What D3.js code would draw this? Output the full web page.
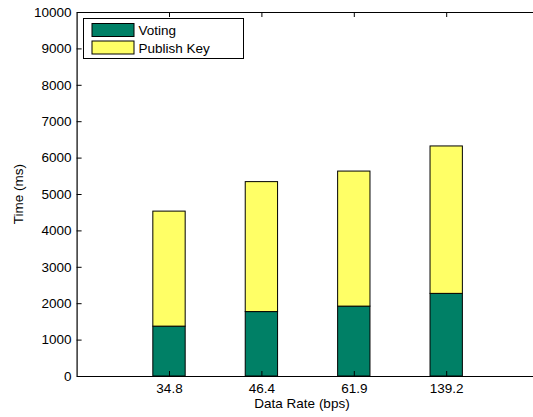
<!DOCTYPE html>
<html>
<head>
<meta charset="utf-8">
<script src="https://cdn.jsdelivr.net/npm/d3@7"></script>
<style>
  html, body { margin: 0; padding: 0; background: #fff; }
  svg { display: block; }
  text { font-family: "Liberation Sans", Arial, Helvetica, sans-serif; fill: #000; }
</style>
</head>
<body>
<script>
// Data: stacked time per data rate
const categories = ["34.8", "46.4", "61.9", "139.2"];
const voting = [1370, 1770, 1920, 2270];
const publishKey = [3160, 3570, 3710, 4050];
const seriesNames = ["Voting", "Publish Key"];
const yTicks = [0, 1000, 2000, 3000, 4000, 5000, 6000, 7000, 8000, 9000, 10000];

const W = 533, H = 417;
const plotLeft = 76.6, plotTop = 12, plotBottom = 376, plotRight = 538.6;
const fontSize = 13.5;

const svg = d3.select("body").append("svg")
  .attr("width", W).attr("height", H);

// Positions 1..n on a [0, n+1] axis
const x = d3.scaleLinear().domain([0, categories.length + 1]).range([plotLeft, plotRight]);
const y = d3.scaleLinear().domain([0, 10000]).range([plotBottom, plotTop]);
const barW = x(0.35) - x(0);

const colors = ["#008066", "#ffff66"];

const rows = categories.map((c, i) => ({ pos: i + 1, label: c, v: voting[i], p: publishKey[i] }));
const stacked = d3.stack().keys(["v", "p"])(rows);

const g = svg.append("g");
stacked.forEach((layer, li) => {
  g.selectAll(null).data(layer).enter().append("rect")
    .attr("x", d => x(d.data.pos) - barW / 2)
    .attr("y", d => y(d[1]))
    .attr("width", barW)
    .attr("height", d => y(d[0]) - y(d[1]))
    .attr("fill", colors[li])
    .attr("stroke", "#000")
    .attr("stroke-width", 1);
});

// Axes with inward ticks
const tickLen = 5;
const yAxis = d3.axisLeft(y).tickValues(yTicks).tickFormat(d3.format("d"))
  .tickSizeInner(-tickLen).tickSizeOuter(0).tickPadding(5);
const yG = svg.append("g").attr("transform", `translate(${plotLeft},0)`).call(yAxis);

const xAxis = d3.axisBottom(x).tickValues(rows.map(r => r.pos))
  .tickFormat((d, i) => categories[i])
  .tickSizeInner(-tickLen).tickSizeOuter(0).tickPadding(7);
const xG = svg.append("g").attr("transform", `translate(0,${plotBottom})`).call(xAxis);

const xTop = d3.axisTop(x).tickValues(rows.map(r => r.pos)).tickFormat("")
  .tickSizeInner(-tickLen).tickSizeOuter(0);
const xTopG = svg.append("g").attr("transform", `translate(0,${plotTop})`).call(xTop);

[yG, xG, xTopG].forEach(a => {
  a.select(".domain").attr("stroke", "#000").attr("stroke-width", 1.2);
  a.selectAll(".tick line").attr("stroke", "#000");
  a.selectAll(".tick text").attr("font-size", fontSize)
    .attr("font-family", "Liberation Sans, Arial, sans-serif").attr("fill", "#000");
});

// Axis titles
svg.append("text").attr("x", 302).attr("y", 408).attr("text-anchor", "middle")
  .attr("font-size", fontSize).text("Data Rate (bps)");
svg.append("text").attr("transform", `translate(23,${(plotTop + plotBottom) / 2}) rotate(-90)`)
  .attr("text-anchor", "middle").attr("font-size", fontSize).text("Time (ms)");

// Legend
const leg = svg.append("g").attr("transform", "translate(83.5,18.5)");
leg.append("rect").attr("width", 160).attr("height", 40)
  .attr("fill", "#fff").attr("stroke", "#000").attr("stroke-width", 1);
seriesNames.forEach((name, i) => {
  const yy = 5 + i * 17.5;
  leg.append("rect").attr("x", 8.5).attr("y", yy).attr("width", 42).attr("height", 13)
    .attr("fill", colors[i]).attr("stroke", "#000");
  leg.append("text").attr("x", 55).attr("y", yy + 11.5).attr("font-size", fontSize).text(name);
});
</script>
</body>
</html>
